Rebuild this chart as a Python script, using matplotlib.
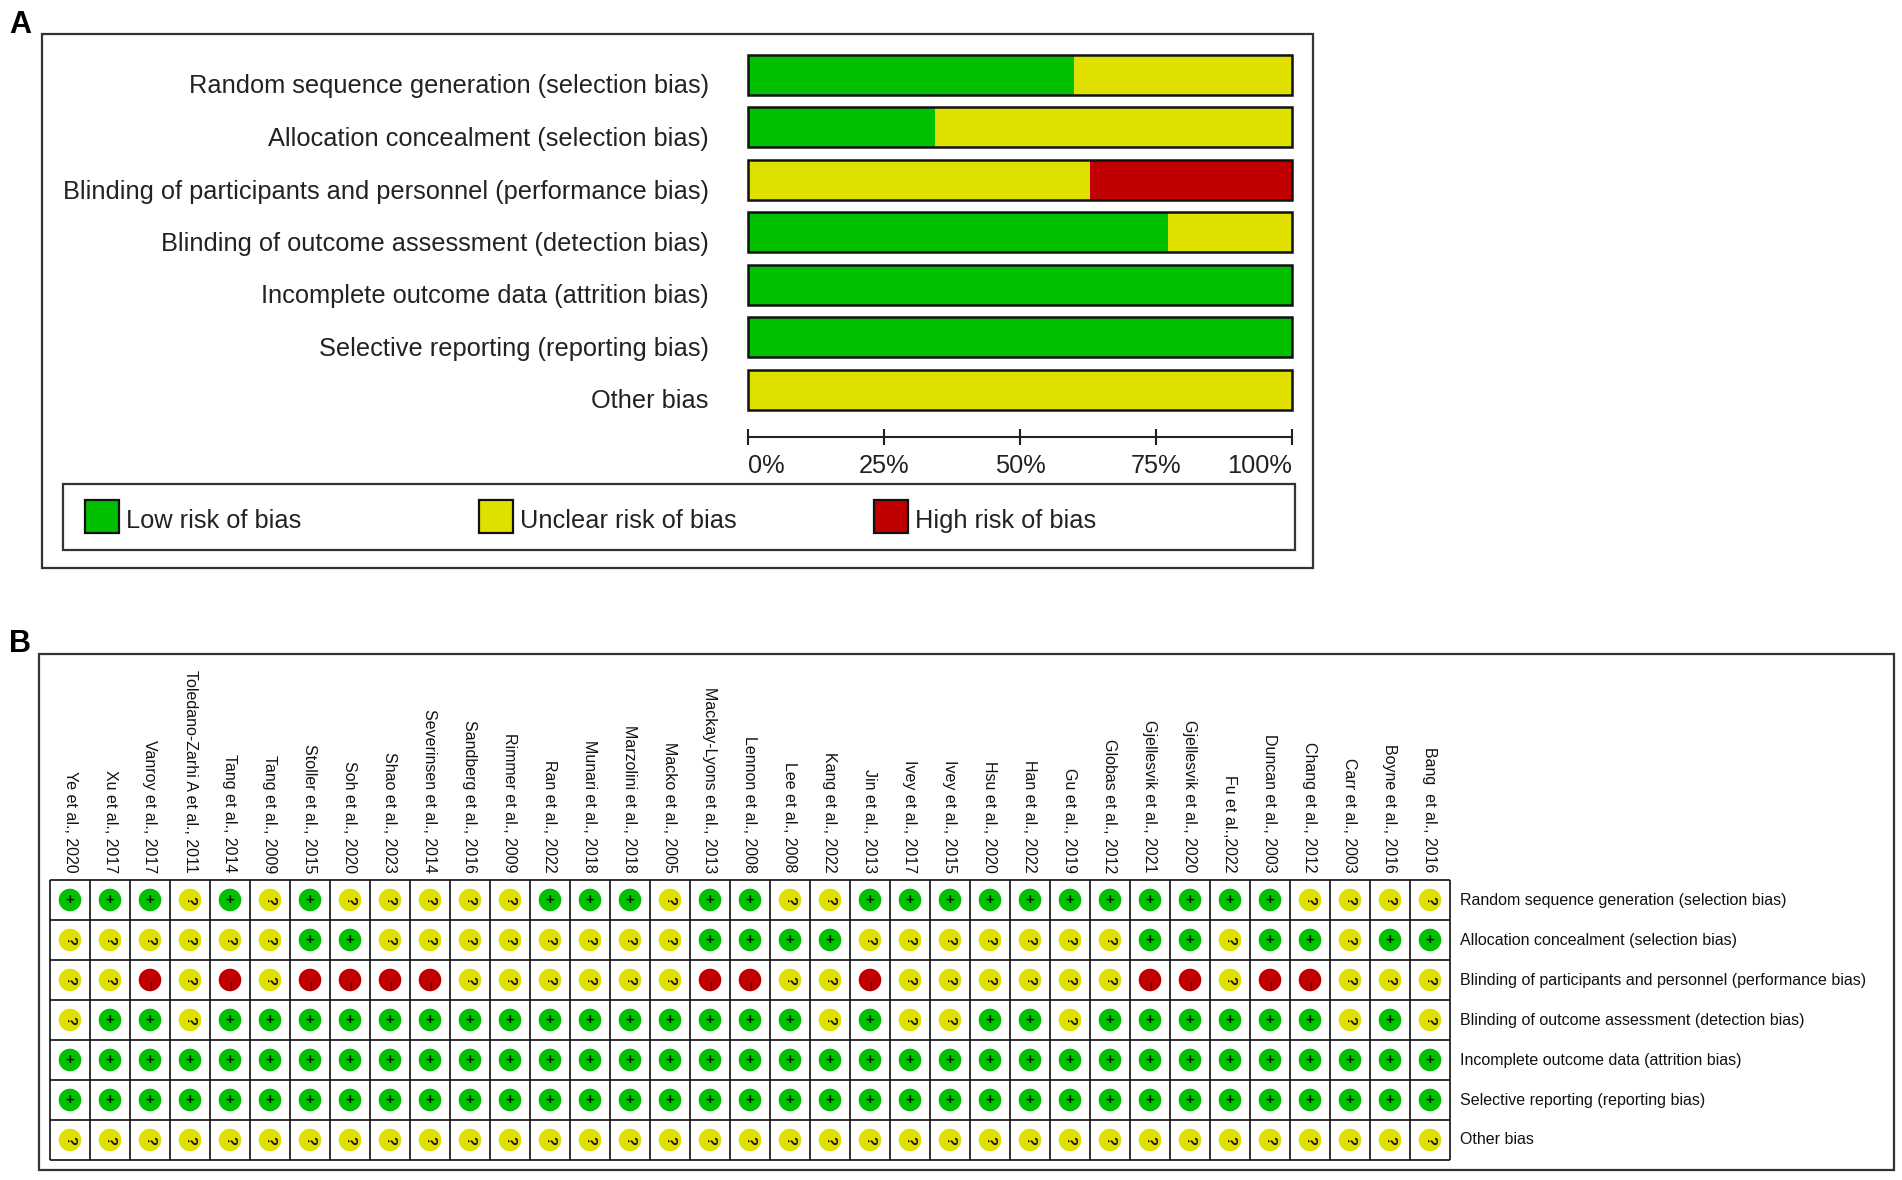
import matplotlib.pyplot as plt
import numpy as np
from matplotlib.patches import Rectangle

plt.rcParams['font.family'] = ['Liberation Sans', 'DejaVu Sans']

W, H = 1902, 1180

GREEN = '#00c000'
YELLOW = '#e0e000'
RED = '#c00000'

domains = [
    'Random sequence generation (selection bias)',
    'Allocation concealment (selection bias)',
    'Blinding of participants and personnel (performance bias)',
    'Blinding of outcome assessment (detection bias)',
    'Incomplete outcome data (attrition bias)',
    'Selective reporting (reporting bias)',
    'Other bias',
]

studies = [
    'Ye et al., 2020', 'Xu et al., 2017', 'Vanroy et al., 2017',
    'Toledano-Zarhi A et al., 2011', 'Tang et al., 2014', 'Tang et al., 2009',
    'Stoller et al., 2015', 'Soh et al., 2020', 'Shao et al., 2023',
    'Severinsen et al., 2014', 'Sandberg et al., 2016', 'Rimmer et al., 2009',
    'Ran et al., 2022', 'Munari et al., 2018', 'Marzolini et al., 2018',
    'Macko et al., 2005', 'Mackay-Lyons et al., 2013', 'Lennon et al., 2008',
    'Lee et al., 2008', 'Kang et al., 2022', 'Jin et al., 2013',
    'Ivey et al., 2017', 'Ivey et al., 2015', 'Hsu et al., 2020',
    'Han et al., 2022', 'Gu et al., 2019', 'Globas et al., 2012',
    'Gjellesvik et al., 2021', 'Gjellesvik et al., 2020', 'Fu et al.,2022',
    'Duncan et al., 2003', 'Chang et al., 2012', 'Carr et al., 2003',
    'Boyne et al., 2016', 'Bang  et al., 2016',
]

# one character per study: + low risk, ? unclear, - high risk
random_seq       = "+++?+?+???" "??+++?++??" "++++++++++" "+????"
allocation       = "??????++??" "??????++++" "???????++?" "++?++"
blinding_part    = "??-?-?----" "??????--??" "-??????--?" "--???"
blinding_outcome = "?++?++++++" "+++++++++?" "+??++?++++" "++?+?"
incomplete       = "+" * 35
selective        = "+" * 35
other            = "?" * 35

judgements = [random_seq, allocation, blinding_part, blinding_outcome,
              incomplete, selective, other]

colour_of = {'+': GREEN, '?': YELLOW, '-': RED}
symbol_of = {'+': ('+', 0, 0.0), '?': ('?', 270, 0.0), '-': ('\u2013', 270, 0.12)}


def px_box(left, top, right, bottom):
    return [left / W, 1 - bottom / H, (right - left) / W, (bottom - top) / H]


fig = plt.figure(figsize=(W / 100, H / 100), dpi=100)


def frame(left, top, right, bottom, lw=1.6, color='#333333'):
    fig.add_artist(Rectangle((left / W, 1 - bottom / H), (right - left) / W,
                             (bottom - top) / H, transform=fig.transFigure,
                             fill=False, lw=lw, ec=color))


frame(42, 34, 1313, 568)
frame(63, 484, 1295, 550)
frame(39, 654, 1894, 1170)

fig.text(9 / W, 1 - 33 / H, 'A', fontsize=22, weight='bold', va='baseline')
fig.text(9 / W, 1 - 652 / H, 'B', fontsize=22, weight='bold', va='baseline')

# ---- A: summary bars
n = len(studies)
y = np.arange(len(domains))
low = np.array([j.count('+') for j in judgements]) / n * 100
unclear = np.array([j.count('?') for j in judgements]) / n * 100
high = np.array([j.count('-') for j in judgements]) / n * 100

ax = fig.add_axes(px_box(748, 48.35, 1292, 415.85))
ax.barh(y, low, height=0.76, color=GREEN, clip_on=False)
ax.barh(y, unclear, left=low, height=0.76, color=YELLOW, clip_on=False)
ax.barh(y, high, left=low + unclear, height=0.76, color=RED, clip_on=False)
ax.barh(y, low + unclear + high, height=0.76, fill=False, ec='#111111',
        lw=1.8, clip_on=False)
ax.set_xlim(0, 100)
ax.set_ylim(len(domains) - 0.5, -0.5)
for i, d in enumerate(domains):
    ax.text(-7.2, i + 0.36, d, ha='right', va='baseline', fontsize=18.3,
            color='#222222')

for s in ['top', 'right', 'left']:
    ax.spines[s].set_visible(False)
ax.spines['bottom'].set_position(('outward', 15.5))
ax.spines['bottom'].set_linewidth(1.5)
ax.spines['bottom'].set_color('#222222')
ax.set_yticks([])
ax.set_xticks([0, 25, 50, 75, 100], ['0%', '25%', '50%', '75%', '100%'])
ax.tick_params(axis='x', direction='inout', length=11, width=1.5,
               labelsize=18.3, pad=6.5, color='#222222', labelcolor='#222222')
ticklabels = ax.get_xticklabels()
ticklabels[0].set_ha('left')
ticklabels[-1].set_ha('right')

# legend
lax = fig.add_axes(px_box(63, 484, 1295, 550))
lax.set_xlim(63, 1295)
lax.set_ylim(550, 484)
lax.axis('off')
legend_items = [('Low risk of bias', GREEN, 85),
                ('Unclear risk of bias', YELLOW, 479),
                ('High risk of bias', RED, 874)]
for label, col, x0 in legend_items:
    lax.add_patch(Rectangle((x0, 500), 34, 33, fc=col, ec='#111111', lw=1.6))
    lax.text(x0 + 41, 521, label, va='center', ha='left', fontsize=18.3,
             color='#222222')

# ---- B: traffic-light grid
bx = fig.add_axes(px_box(50, 880, 1450, 1160))
bx.set_xlim(0, n)
bx.set_ylim(len(domains), 0)
bx.axis('off')
bx.hlines(np.arange(len(domains) + 1), 0, n, color='#111111', lw=1.2,
          clip_on=False)
bx.vlines(np.arange(n + 1), 0, len(domains), color='#111111', lw=1.2,
          clip_on=False)

xs, ys, cs = [], [], []
for j, row in enumerate(judgements):
    for i, code in enumerate(row):
        xs.append(i + 0.5)
        ys.append(j + 0.5)
        cs.append(colour_of[code])
        sym, rot, dy = symbol_of[code]
        bx.text(i + 0.5, j + 0.5 + dy, sym, rotation=rot, ha='center',
                va='center', fontsize=10.5, weight='bold', color='#111111',
                zorder=4)
bx.scatter(xs, ys, s=265, c=cs, linewidths=0, zorder=3, clip_on=False)

for i, s in enumerate(studies):
    bx.text(i + 0.5, -0.18, s, rotation=270, ha='center', va='bottom',
            fontsize=11.5, color='#111111')
for j, d in enumerate(domains):
    bx.text(n + 0.25, j + 0.5, d, ha='left', va='center', fontsize=11.5,
            color='#111111')

fig.savefig('out.png', dpi=100, facecolor='white')
